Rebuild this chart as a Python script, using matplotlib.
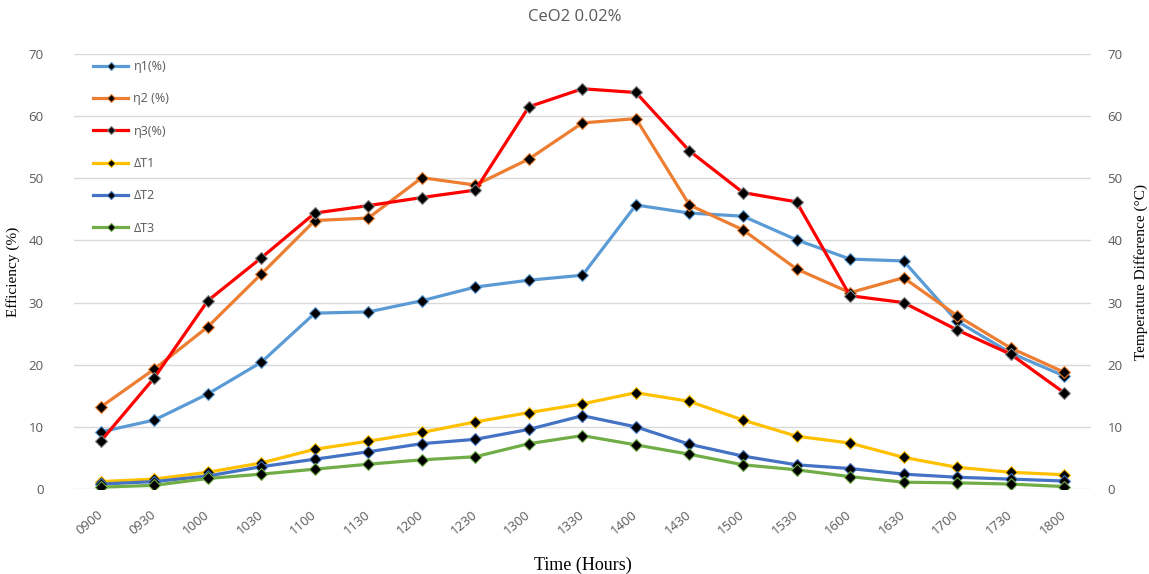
import numpy as np
from matplotlib import pyplot as plt

times = ['0900', '0930', '1000', '1030', '1100', '1130', '1200', '1230', '1300', '1330',
         '1400', '1430', '1500', '1530', '1600', '1630', '1700', '1730', '1800']

eta1 = [9.2, 11.1, 15.3, 20.4, 28.3, 28.5, 30.3, 32.5, 33.6, 34.4,
        45.7, 44.4, 43.9, 40.1, 37.0, 36.7, 27.0, 21.9, 18.2]
eta2 = [13.2, 19.3, 26.1, 34.6, 43.2, 43.6, 50.1, 48.9, 53.1, 58.9,
        59.6, 45.7, 41.7, 35.4, 31.6, 34.0, 27.9, 22.7, 18.8]
eta3 = [7.7, 17.9, 30.3, 37.2, 44.4, 45.6, 46.9, 48.1, 61.5, 64.4,
        63.8, 54.4, 47.7, 46.2, 31.1, 30.0, 25.6, 21.7, 15.5]

dT1 = [1.2, 1.6, 2.7, 4.2, 6.4, 7.7, 9.1, 10.8, 12.3, 13.7,
       15.5, 14.1, 11.1, 8.5, 7.4, 5.1, 3.5, 2.7, 2.3]
dT2 = [0.8, 1.2, 2.1, 3.6, 4.8, 6.0, 7.3, 8.0, 9.6, 11.8,
       10.0, 7.2, 5.3, 3.9, 3.3, 2.4, 1.9, 1.6, 1.3]
dT3 = [0.3, 0.6, 1.7, 2.4, 3.2, 4.0, 4.7, 5.2, 7.3, 8.6,
       7.1, 5.6, 3.9, 3.1, 2.0, 1.1, 1.0, 0.8, 0.4]

x = np.arange(len(times))
grey = '#595959'

fig = plt.figure(figsize=(11.49, 5.74), dpi=100)
ax = fig.add_axes([0.0644, 0.148, 0.885, 0.758])
ax2 = ax.twinx()

style = dict(lw=2.3, marker='D', ms=6.5, mfc='black', mew=0.8)
h1, = ax.plot(x, eta1, color='#5B9BD5', mec='#5B9BD5', label='η1(%)', **style)
h2, = ax.plot(x, eta2, color='#ED7D31', mec='#ED7D31', label='η2 (%)', **style)
h3, = ax.plot(x, eta3, color='#FF0000', mec='#7f7f7f', label='η3(%)', **style)
h4, = ax2.plot(x, dT1, color='#FFC000', mec='#FFC000', label='ΔT1', **style)
h5, = ax2.plot(x, dT2, color='#4472C4', mec='#4472C4', label='ΔT2', **style)
h6, = ax2.plot(x, dT3, color='#70AD47', mec='#70AD47', label='ΔT3', **style)

for a in (ax, ax2):
    a.set_ylim(0, 70)
    a.set_yticks(range(0, 71, 10))
    a.set_xlim(-0.5, len(times) - 0.5)
    for s in a.spines.values():
        s.set_visible(False)
    a.tick_params(length=0, colors=grey, labelsize=9.5)
    for lab in a.get_yticklabels():
        lab.set_fontfamily('Open Sans')

ax.yaxis.grid(True, color='#D9D9D9', lw=1)
ax.set_axisbelow(True)
ax.tick_params(axis='y', pad=22)
ax2.tick_params(axis='y', pad=12)

ax.set_xticks(x)
ax.set_xticklabels(times, rotation=40, ha='right', va='center',
                   rotation_mode='anchor', family='Open Sans', fontsize=9.5, color=grey)
ax.tick_params(axis='x', pad=17)

ax.set_ylabel('Efficiency (%)', family='Liberation Serif', fontsize=11, labelpad=6)
ax2.set_ylabel('Temperature Difference (°C)', family='Liberation Serif', fontsize=11, labelpad=8)
ax.set_xlabel('Time (Hours)', family='Liberation Serif', fontsize=13, labelpad=14)
fig.suptitle('CeO2 0.02%', y=0.985, fontsize=12, color=grey, family='Open Sans')

leg = ax2.legend(handles=[h1, h2, h3, h4, h5, h6], loc='upper left',
                 bbox_to_anchor=(0.008, 1.012), frameon=False, handlelength=2.8,
                 labelspacing=1.55, handletextpad=0.4,
                 prop={'family': 'Open Sans', 'size': 9})
for t in leg.get_texts():
    t.set_color(grey)
for lh in leg.legend_handles:
    lh.set_markersize(4.5)

fig.savefig('out.png', dpi=100)
